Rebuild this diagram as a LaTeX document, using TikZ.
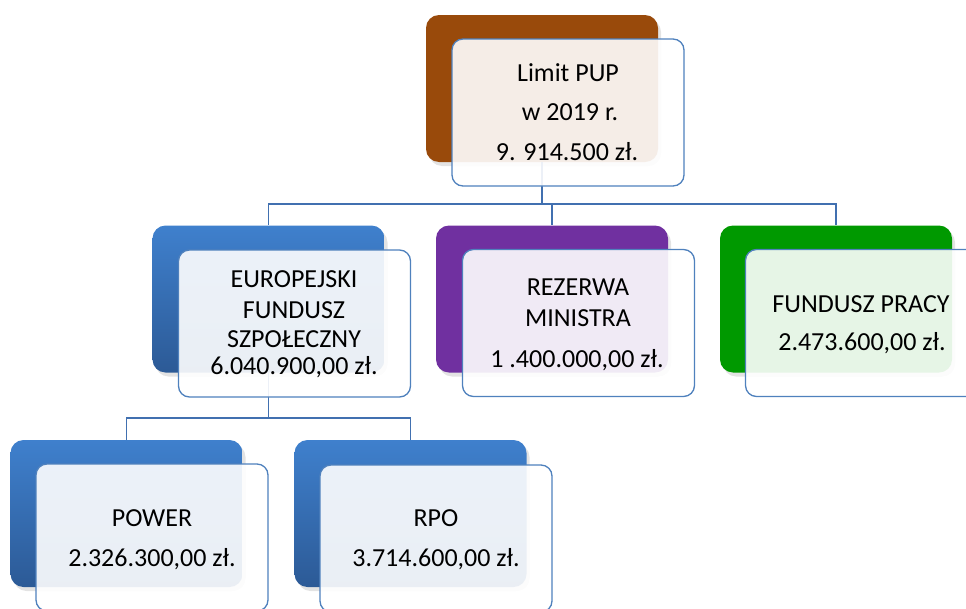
\documentclass[tikz,border=0pt]{standalone}
\usepackage{fontspec}
\setmainfont{Carlito}
\usetikzlibrary{shadows}
\definecolor{brownc}{HTML}{994A0B}
\definecolor{purplec}{HTML}{7030A0}
\definecolor{greenc}{HTML}{009900}
\definecolor{bluetop}{HTML}{3F80CD}
\definecolor{bluebot}{HTML}{2C5A96}
\definecolor{edgec}{HTML}{4F81BD}
\definecolor{linec}{HTML}{4170B0}
\tikzset{
  backbox/.style={rectangle, rounded corners=13pt, inner sep=0pt, draw=none,
    minimum width=232pt, minimum height=147pt,
    drop shadow={opacity=0.22, shadow xshift=3pt, shadow yshift=-4pt}},
  frontbox/.style={rectangle, rounded corners=11pt, inner sep=0pt, draw=edgec,
    line width=1.3pt, fill=white, fill opacity=0.9,
    minimum width=232pt, minimum height=147pt},
  bluebox/.style={backbox, top color=bluetop, bottom color=bluebot},
  conn/.style={draw=linec, line width=1.2pt},
  txt/.style={anchor=base, inner sep=0pt, font=\fontsize{26}{31}\selectfont, text=black}
}
\begin{document}
\begin{tikzpicture}[x=1pt,y=-1pt]
\useasboundingbox (0,0) rectangle (966,608);
% back boxes
\node[backbox, fill=brownc] (topB) at (542,88.5) {};
\node[bluebox] (efsB) at (268.5,299) {};
\node[backbox, fill=purplec] (rezB) at (552,299) {};
\node[backbox, fill=greenc] (fpB) at (836,299) {};
\node[bluebox] (powB) at (126.5,513.5) {};
\node[bluebox] (rpoB) at (410.5,513.5) {};
% connectors
\coordinate (j1) at (542,204);
\coordinate (j2) at (268.5,418);
\draw[conn] (topB.south) -- (j1);
\draw[conn] (j1) -| (efsB.north);
\draw[conn] (j1) -| (rezB.north);
\draw[conn] (j1) -| (fpB.north);
\draw[conn] (efsB.south) -- (j2);
\draw[conn] (j2) -| (powB.north);
\draw[conn] (j2) -| (rpoB.north);
% front boxes
\node[frontbox] (topF) at (568,112.5) {};
\node[frontbox] (efsF) at (294.5,323.5) {};
\node[frontbox] (rezF) at (578.5,323) {};
\node[frontbox] (fpF) at (861.5,323) {};
\node[frontbox] (powF) at (152,537.5) {};
\node[frontbox] (rpoF) at (436,538.5) {};
% texts
\node[txt] (topT1) at (568,81) {Limit PUP};
\node[txt] (topT2) at (570,120) {w 2019 r.};
\node[txt] (topT3) at (567,160) {9. 914.500 zł.};
\node[txt] (efsT1) at (294,287) {EUROPEJSKI};
\node[txt] (efsT2) at (294,318) {FUNDUSZ};
\node[txt] (efsT3) at (294,347) {SZPOŁECZNY};
\node[txt] (efsT4) at (294,374) {6.040.900,00 zł.};
\node[txt] (rezT1) at (578,295) {REZERWA};
\node[txt] (rezT2) at (578,326) {MINISTRA};
\node[txt] (rezT3) at (577,367) {1 .400.000,00 zł.};
\node[txt] (fpT1) at (861,312) {FUNDUSZ PRACY};
\node[txt] (fpT2) at (862,350) {2.473.600,00 zł.};
\node[txt] (powT1) at (152,526) {POWER};
\node[txt] (powT2) at (152,566) {2.326.300,00 zł.};
\node[txt] (rpoT1) at (436,526) {RPO};
\node[txt] (rpoT2) at (436,566) {3.714.600,00 zł.};
\end{tikzpicture}
\end{document}
